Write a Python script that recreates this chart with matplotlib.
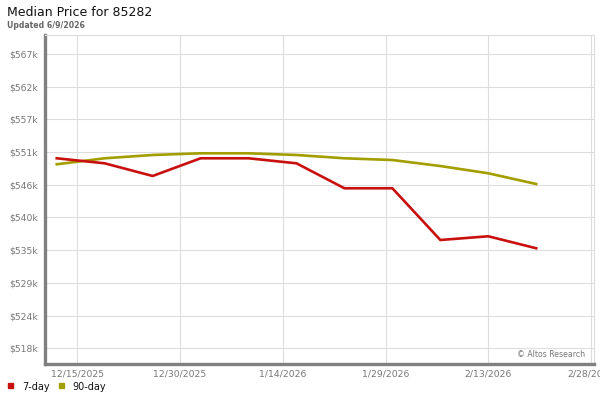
import matplotlib
matplotlib.use("Agg")
import matplotlib.pyplot as plt
import matplotlib.dates as mdates
from matplotlib.patches import Rectangle
import datetime as dt

# ---- data ----
dates = ["2025-12-12", "2025-12-19", "2025-12-26", "2026-01-02", "2026-01-09",
         "2026-01-16", "2026-01-23", "2026-01-30", "2026-02-06", "2026-02-13",
         "2026-02-20"]
seven_day = [550.07, 549.23, 547.12, 550.07, 550.07, 549.23, 545.07, 545.07,
             536.45, 537.07, 535.07]
ninety_day = [549.07, 550.07, 550.62, 550.9, 550.9, 550.62, 550.07, 549.78,
              548.78, 547.57, 545.78]
series_names = ["7-day", "90-day"]
ytick_values = [518.4, 523.85, 529.3, 534.75, 540.2, 545.65, 551.1, 556.55, 562.0, 567.45]
ytick_labels = ["$518k", "$524k", "$529k", "$535k", "$540k", "$546k", "$551k",
                "$557k", "$562k", "$567k"]
xtick_dates = ["2025-12-15", "2025-12-30", "2026-01-14", "2026-01-29",
               "2026-02-13", "2026-02-28"]
xtick_labels = ["12/15/2025", "12/30/2025", "1/14/2026", "1/29/2026",
                "2/13/2026", "2/28/2026"]
title = "Median Price for 85282"
subtitle = "Updated 6/9/2026"

RED = "#C8100E"
OLIVE = "#A39E00"
GRID = "#DDDDDD"
TICKC = "#777777"

plt.rcParams["font.family"] = ["DejaVu Sans"]

fig = plt.figure(figsize=(6, 4), dpi=100)
ax = fig.add_axes([44.7 / 600, 1 - 364 / 400, (593.5 - 44.7) / 600, (364 - 35) / 400])

xd = [dt.datetime.strptime(d, "%Y-%m-%d") for d in dates]
xt = [dt.datetime.strptime(d, "%Y-%m-%d") for d in xtick_dates]

ax.plot(xd, ninety_day, color=OLIVE, lw=1.9, solid_joinstyle="round", zorder=3)
ax.plot(xd, seven_day, color=RED, lw=1.9, solid_joinstyle="round", zorder=4)

x0 = mdates.date2num(xt[0]) - 4.76
x1 = mdates.date2num(xt[-1]) + 0.36
ax.set_xlim(x0, x1)
ax.set_ylim(515.78, 570.62)

ax.set_yticks(ytick_values)
ax.set_yticklabels(ytick_labels)
ax.set_xticks(xt)
ax.set_xticklabels(xtick_labels)
ax.tick_params(axis="both", length=0, colors=TICKC, labelsize=6.7)
ax.tick_params(axis="y", pad=5)
ax.tick_params(axis="x", pad=4)

ax.grid(True, color=GRID, lw=0.8, zorder=0)
ax.set_axisbelow(True)

for s in ["top", "right"]:
    ax.spines[s].set_color(GRID)
    ax.spines[s].set_linewidth(0.8)
for s in ["left", "bottom"]:
    ax.spines[s].set_color("#808080")
    ax.spines[s].set_linewidth(2.4)

ax.text(0.985, 0.03, "\u00a9 Altos Research", transform=ax.transAxes,
        ha="right", va="center", fontsize=5.6, color="#777777")

fig.text(7 / 600, 1 - 13 / 400, title, fontsize=9, color="#111111", va="center", ha="left")
fig.text(7.3 / 600, 1 - 25 / 400, subtitle, fontsize=5.6, color="#666666",
         va="center", ha="left", fontweight="bold")

# legend
for (sx, tx, col, name) in [(8.3, 21.7, RED, series_names[0]), (59.3, 72.7, OLIVE, series_names[1])]:
    fig.patches.append(Rectangle((sx / 600, 1 - 388.3 / 400), 5 / 600, 5.6 / 400,
                                 transform=fig.transFigure, color=col, figure=fig))
    fig.text(tx / 600, 1 - 386.5 / 400, name, fontsize=7, color="#111111",
             va="center", ha="left")

fig.savefig("out.png", dpi=100)
